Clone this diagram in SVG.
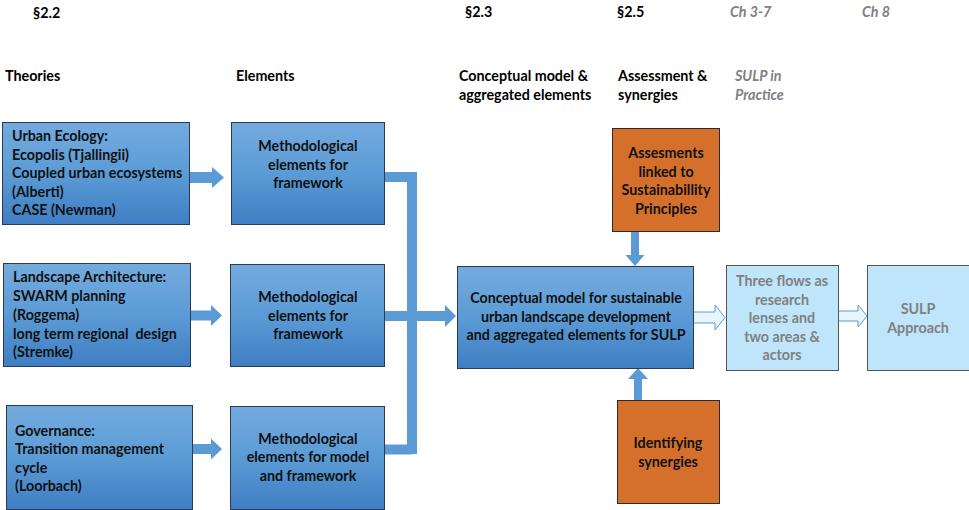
<svg xmlns="http://www.w3.org/2000/svg" width="969" height="510" viewBox="0 0 969 510">
<defs>
<linearGradient id="gb" x1="0" y1="0" x2="0" y2="1">
<stop offset="0" stop-color="#74abdf"/>
<stop offset="0.5" stop-color="#5b9bd5"/>
<stop offset="1" stop-color="#3f7ec3"/>
</linearGradient>
</defs>
<style>
text{font-family:Lato,"Liberation Sans",sans-serif;font-weight:bold;font-size:14.3px;fill:#111}
.hd{fill:#000}
.gr{fill:#7f7f7f;font-style:italic}
.c{text-anchor:middle}
.blue{fill:url(#gb);stroke:#2b3b4e;stroke-width:1}
.or{fill:#d4702c;stroke:#2b2b2b;stroke-width:1}
.lb{fill:#bfe5fb;stroke:#555;stroke-width:1}
.lbt{fill:#808080}
.arr{fill:#5b9bd5;stroke:none}
.bar{fill:none;stroke:#5b9bd5;stroke-width:10}
.hol{fill:#eaf4fc;stroke:#5b9bd5;stroke-width:1}
</style>
<g id="headers">
<text class="hd" x="33" y="18">§2.2</text>
<text class="hd" x="465" y="17">§2.3</text>
<text class="hd" x="617" y="17">§2.5</text>
<text class="gr" x="730" y="17">Ch 3-7</text>
<text class="gr" x="862" y="17">Ch 8</text>
<text class="hd" x="5" y="81">Theories</text>
<text class="hd" x="236" y="81">Elements</text>
<text class="hd" x="459" y="81">Conceptual model &amp;</text>
<text class="hd" x="459" y="100">aggregated elements</text>
<text class="hd" x="618" y="81">Assessment &amp;</text>
<text class="hd" x="618" y="100">synergies</text>
<text class="gr" x="735" y="81">SULP in</text>
<text class="gr" x="735" y="100">Practice</text>
</g>
<g id="connectors">
<polygon class="arr" points="190,172 212,172 212,167 224,177.5 212,188 212,183 190,183"/>
<polygon class="arr" points="191,310.5 211,310.5 211,305 222,315.5 211,326 211,320.5 191,320.5"/>
<polygon class="arr" points="193,444 211,444 211,438.5 222,449 211,459.5 211,454 193,454"/>
<path class="bar" d="M385,177 H412 V454"/>
<path class="bar" d="M385,449.5 H412"/>
<path class="bar" d="M385,316 H446"/>
<polygon class="arr" points="445,305 456,316 445,327"/>
<polygon class="arr" points="631,232 639,232 639,255 644.5,255 635,266 625.5,255 631,255"/>
<polygon class="arr" points="634,400 642,400 642,379 648,379 638,368 628,379 634,379"/>
<polygon class="hol" points="693.5,312 715,312 715,305 725,317.5 715,330 715,323 693.5,323"/>
<polygon class="hol" points="838.5,311 858,311 858,305 867,316 858,327 858,321 838.5,321"/>
</g>
<g id="n-urban">
<rect class="blue" x="2.5" y="122.5" width="187" height="102"/>
<text x="12" y="141">Urban Ecology:</text>
<text x="12" y="159.5">Ecopolis (Tjallingii)</text>
<text x="12" y="178">Coupled urban ecosystems</text>
<text x="12" y="196.5">(Alberti)</text>
<text x="12" y="215">CASE (Newman)</text>
</g>
<g id="n-landscape">
<rect class="blue" x="3.5" y="263.5" width="187" height="103"/>
<text x="13" y="282">Landscape Architecture:</text>
<text x="13" y="301">SWARM planning</text>
<text x="13" y="320">(Roggema)</text>
<text x="13" y="338.5" xml:space="preserve">long term regional  design</text>
<text x="13" y="357">(Stremke)</text>
</g>
<g id="n-governance">
<rect class="blue" x="6.5" y="405.5" width="186" height="104"/>
<text x="15" y="435.5">Governance:</text>
<text x="15" y="454">Transition management</text>
<text x="15" y="472.5">cycle</text>
<text x="15" y="491">(Loorbach)</text>
</g>
<g id="n-elem1">
<rect class="blue" x="231.5" y="122.5" width="153" height="102"/>
<text class="c" x="308" y="151">Methodological</text>
<text class="c" x="308" y="169.5">elements for</text>
<text class="c" x="308" y="188">framework</text>
</g>
<g id="n-elem2">
<rect class="blue" x="230.5" y="264.5" width="154" height="102"/>
<text class="c" x="308" y="302">Methodological</text>
<text class="c" x="308" y="320.5">elements for</text>
<text class="c" x="308" y="339">framework</text>
</g>
<g id="n-elem3">
<rect class="blue" x="230.5" y="406.5" width="154" height="103"/>
<text class="c" x="308" y="443.5">Methodological</text>
<text class="c" x="308" y="462">elements for model</text>
<text class="c" x="308" y="480.5">and framework</text>
</g>
<g id="n-central">
<rect class="blue" x="457.5" y="266.5" width="236" height="102"/>
<text class="c" x="576" y="303">Conceptual model for sustainable</text>
<text class="c" x="576" y="321.5">urban landscape development</text>
<text class="c" x="576" y="340">and aggregated elements for SULP</text>
</g>
<g id="n-assess">
<rect class="or" x="612.5" y="128.5" width="107" height="103"/>
<text class="c" x="666" y="158">Assesments</text>
<text class="c" x="666" y="176.5">linked to</text>
<text class="c" x="666" y="195">Sustainabillity</text>
<text class="c" x="666" y="213.5">Principles</text>
</g>
<g id="n-synergies">
<rect class="or" x="617.5" y="400.5" width="102" height="103"/>
<text class="c" x="668" y="448">Identifying</text>
<text class="c" x="668" y="466.5">synergies</text>
</g>
<g id="n-flows">
<rect class="lb" x="726.5" y="265.5" width="112" height="105"/>
<text class="c lbt" x="782" y="286">Three flows as</text>
<text class="c lbt" x="782" y="304.5">research</text>
<text class="c lbt" x="782" y="323">lenses and</text>
<text class="c lbt" x="782" y="341.5">two areas &amp;</text>
<text class="c lbt" x="782" y="360">actors</text>
</g>
<g id="n-sulp">
<rect class="lb" x="867.5" y="265.5" width="105" height="105"/>
<text class="c lbt" x="918" y="314">SULP</text>
<text class="c lbt" x="918" y="332.5">Approach</text>
</g>
</svg>
